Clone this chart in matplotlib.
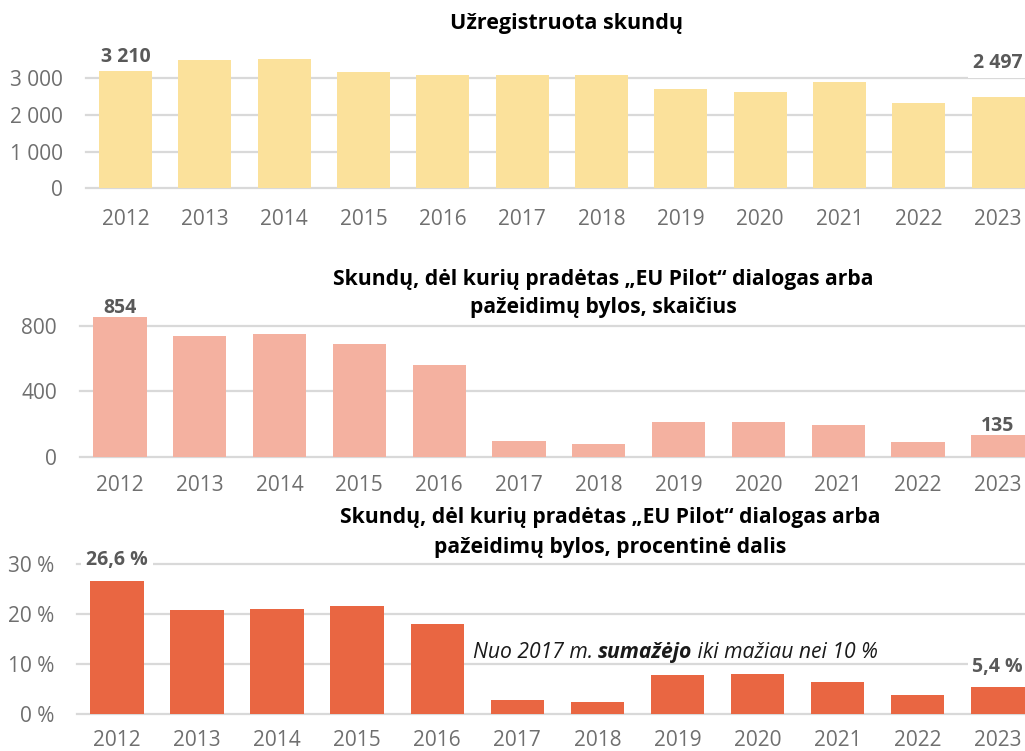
import matplotlib
matplotlib.use("Agg")
import matplotlib.pyplot as plt

years = ["2012", "2013", "2014", "2015", "2016", "2017", "2018", "2019", "2020", "2021", "2022", "2023"]
registered = [3210, 3510, 3530, 3180, 3080, 3090, 3100, 2720, 2630, 2910, 2330, 2497]
pilot_count = [854, 737, 751, 690, 559, 94, 76, 214, 212, 194, 90, 135]
pilot_share = [26.6, 20.8, 21.1, 21.7, 18.1, 2.9, 2.4, 7.8, 8.1, 6.5, 3.9, 5.4]

title1 = "Užregistruota skundų"
title2 = "Skundų, dėl kurių pradėtas „EU Pilot“ dialogas arba\npažeidimų bylos, skaičius"
title3 = "Skundų, dėl kurių pradėtas „EU Pilot“ dialogas arba\npažeidimų bylos, procentinė dalis"

ticks1 = [0, 1000, 2000, 3000]
ticklabels1 = ["0", "1 000", "2 000", "3 000"]
ticks2 = [0, 400, 800]
ticklabels2 = ["0", "400", "800"]
ticks3 = [0, 10, 20, 30]
ticklabels3 = ["0 %", "10 %", "20 %", "30 %"]

labels1 = {0: "3 210", 11: "2 497"}
labels2 = {0: "854", 11: "135"}
labels3 = {0: "26,6 %", 11: "5,4 %"}

plt.rcParams['font.family'] = ['Open Sans', 'DejaVu Sans']

W, H = 1025, 751
fig = plt.figure(figsize=(W / 100, H / 100), dpi=100)

GRID = "#d9d9d9"
TICK = "#6f6f6f"
VAL = "#595959"


def make_axes(left_px, zero_px, top_px):
    return fig.add_axes([left_px / W, 1 - zero_px / H, (W - left_px) / W, (zero_px - top_px) / H])


def style(ax, values, color, yticks, yticklabels, ytop, labels, offsets, xpad):
    x = list(range(len(values)))
    ax.bar(x, values, width=0.668, color=color, zorder=2)
    ax.set_xlim(-0.5, 11.34)
    ax.set_ylim(0, ytop)
    ax.set_yticks(yticks)
    ax.set_yticklabels(yticklabels)
    ax.set_xticks(x)
    ax.set_xticklabels(years)
    for s in ax.spines.values():
        s.set_visible(False)
    ax.set_axisbelow(True)
    ax.grid(axis="y", color=GRID, linewidth=1.6)
    for gl in ax.get_ygridlines():
        gl.set_clip_on(False)
    ax.tick_params(axis="both", length=0, labelsize=15, labelcolor=TICK)
    ax.tick_params(axis="y", pad=16.5)
    ax.tick_params(axis="x", pad=xpad)
    for i, txt in labels.items():
        ax.annotate(txt, xy=(i, values[i]), xytext=(0, offsets[i]), textcoords="offset pixels",
                    ha="center", va="center", fontsize=14, fontweight="bold", color=VAL,
                    bbox=dict(boxstyle="square,pad=0.25", fc="white", ec="none"), zorder=1.5)


ax1 = make_axes(86, 188.3, 49)
style(ax1, registered, "#fbe19b", ticks1, ticklabels1, 3800, labels1, {0: 14, 11: 33.5}, 15)

ax2 = make_axes(80, 456.7, 301.1)
style(ax2, pilot_count, "#f4b1a0", ticks2, ticklabels2, 950, labels2, {0: 8.5, 11: 8.5}, 13.5)

ax3 = make_axes(77, 714.3, 559.3)
style(ax3, pilot_share, "#e96642", ticks3, ticklabels3, 31, labels3, {0: 21.5, 11: 20.5}, 11.5)

fig.text(566 / W, 1 - 24 / H, title1, ha="center", va="center", fontsize=15.5, fontweight="bold", color="black")
fig.text(603 / W, 1 - 293.5 / H, title2, ha="center", va="center", fontsize=15.2, fontweight="bold",
         color="black", linespacing=1.5)
fig.text(610 / W, 1 - 532.5 / H, title3, ha="center", va="center", fontsize=15.2, fontweight="bold",
         color="black", linespacing=1.5)

# annotation with mixed styles
t1 = ax3.text(4.44, 12.4, "Nuo 2017 m. ", fontsize=15.2, style="italic", color="#1a1a1a",
              ha="left", va="center", zorder=6)
t2 = ax3.annotate("sumažėjo", xy=(1, 0), xycoords=t1, ha="left", va="bottom", fontsize=15.2,
                  style="italic", fontweight="bold", color="#1a1a1a", zorder=6)
t3 = ax3.annotate(" iki mažiau nei 10 %", xy=(1, 0), xycoords=t2, ha="left", va="bottom",
                  fontsize=15.2, style="italic", color="#1a1a1a", zorder=6)

fig.savefig("out.png", dpi=100)
